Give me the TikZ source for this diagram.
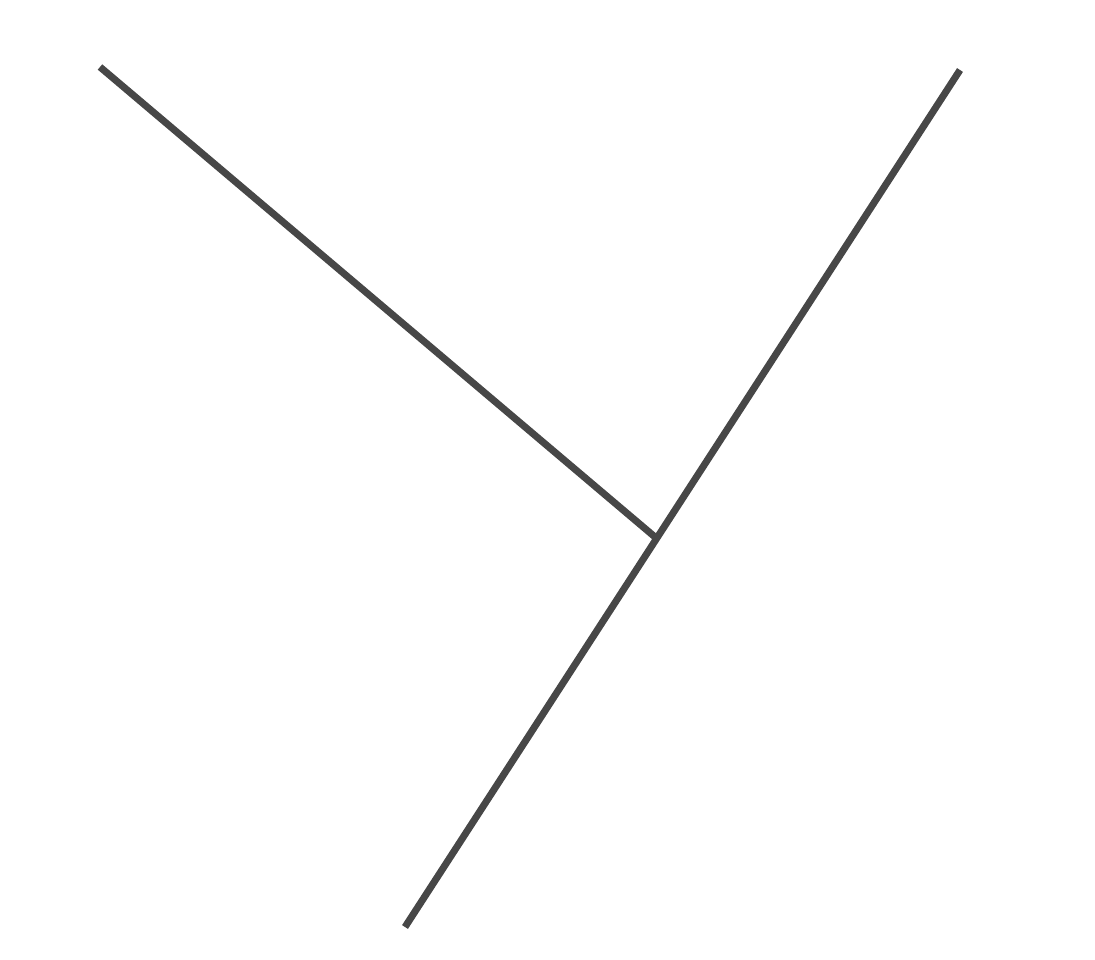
\documentclass[tikz,border=0pt]{standalone}
\begin{document}
\begin{tikzpicture}[x=1pt,y=-1pt,
  stroke/.style={draw={rgb,255:red,71;green,71;blue,71},line width=7pt,line cap=butt}]
\useasboundingbox (0,0) rectangle (1095,960);
\coordinate (A) at (100,67);
\coordinate (B) at (960,70);
\coordinate (C) at (405,927);
\coordinate (J) at (655,537);
\draw[stroke] (B) -- (C);
\draw[stroke] (A) -- (J);
\end{tikzpicture}
\end{document}
